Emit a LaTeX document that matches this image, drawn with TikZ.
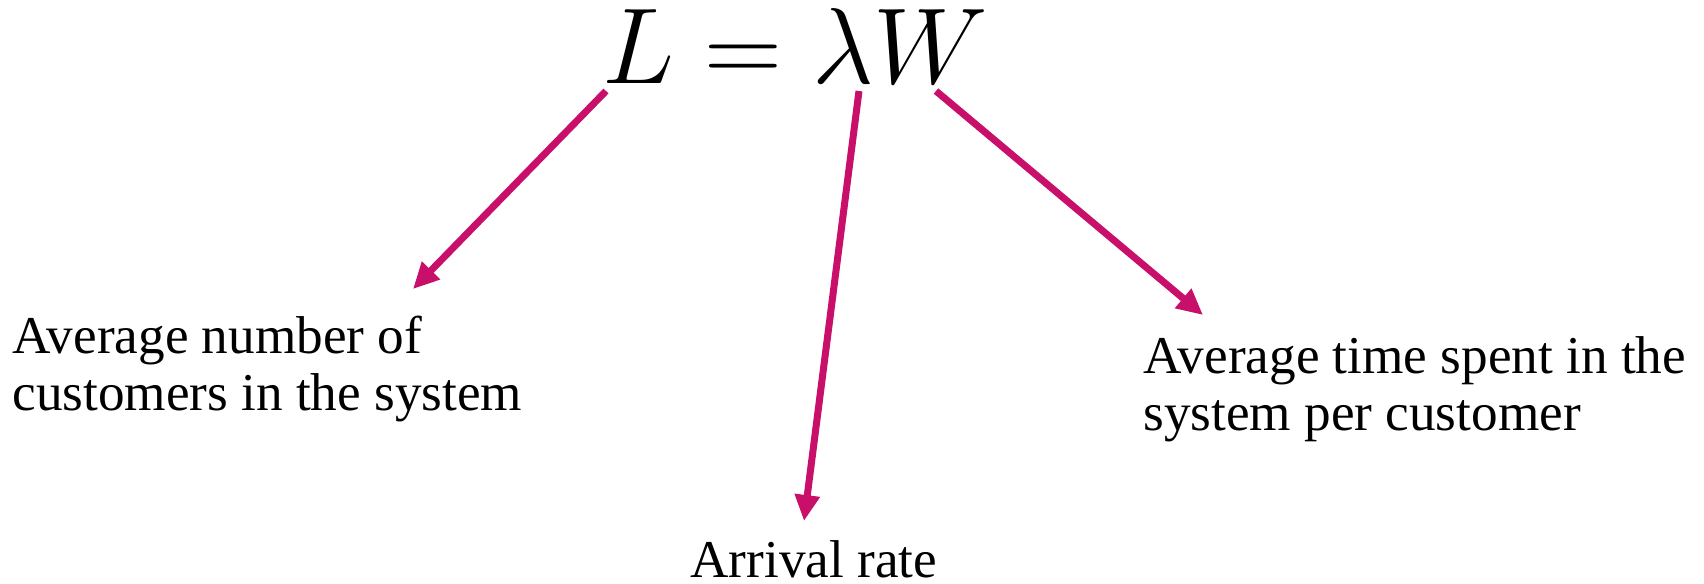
\RequirePackage{fix-cm}
\documentclass[tikz,border=0pt]{standalone}
\usepackage{fontspec}
\setmainfont{Liberation Serif}
\usepackage{xcolor}
\usepackage{tikz}
\usetikzlibrary{arrows.meta,positioning}
\definecolor{arrowpink}{RGB}{200,15,105}

\begin{document}
\begin{tikzpicture}[
    x=0.5pt, y=-0.5pt,
    lbl/.style={anchor=base west, inner sep=0pt, align=left,
                font=\fontsize{26.6}{28.5}\selectfont},
    arr/.style={-{Triangle[length=13pt,width=12pt]}, line width=3.5pt,
                draw=arrowpink}
]
    \useasboundingbox (0,0) rectangle (1704,584);

    \node[anchor=base west, inner sep=0pt, font=\fontsize{54}{62}\selectfont]
        (law) at (602,83) {$L = \lambda W$};

    % base of a two-line label is its last line
    \node[lbl] (avgnum) at (12,410) {Average number of\\customers in the system};
    \node[lbl] (rate) at (690,577) {Arrival rate};
    \node[lbl] (avgtime) at (1143,430) {Average time spent in the\\system per customer};

    % arrow ends below the formula and above the labels
    \coordinate (L-from) at (606,91);
    \coordinate (lam-from) at (859,91);
    \coordinate (W-from) at (936,91);
    \coordinate (avgnum-to) at (413,289);
    \coordinate (rate-to) at (804,521);
    \coordinate (avgtime-to) at (1203,315);

    \draw[arr] (L-from) -- (avgnum-to);
    \draw[arr] (lam-from) -- (rate-to);
    \draw[arr] (W-from) -- (avgtime-to);
\end{tikzpicture}
\end{document}
